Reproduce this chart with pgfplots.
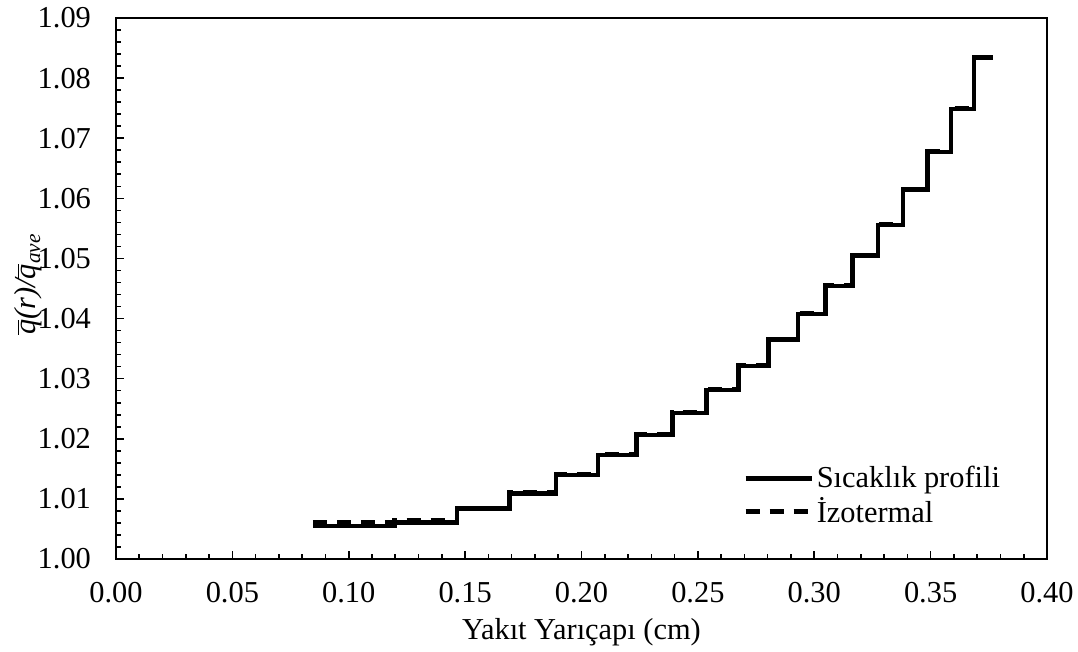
\documentclass[border=0pt]{standalone}
\usepackage{pgfplots}
\pgfplotsset{compat=1.18}
\usepackage{fontspec}
\setmainfont{Liberation Serif}
\newcommand{\fs}{\fontsize{15.2}{18}\selectfont}
\newcommand{\qb}{\ensuremath{\overline{\mbox{\itshape q}}}}
\begin{document}
\begin{tikzpicture}[x=1pt,y=1pt]
\useasboundingbox (0,0) rectangle (539,326);
\begin{axis}[
  at={(58pt,46.5pt)}, anchor=south west,
  scale only axis, width=465.5pt, height=270.5pt,
  xmin=0, xmax=0.4, ymin=1, ymax=1.09,
  xtick={0,0.05,0.1,0.15,0.2,0.25,0.3,0.35,0.4},
  ytick={1,1.01,1.02,1.03,1.04,1.05,1.06,1.07,1.08,1.09},
  minor x tick num=4, minor y tick num=4,
  tick align=inside, xtick pos=bottom, ytick pos=left,
  major tick length=4pt, minor tick length=2.4pt,
  axis line style={line width=0.8pt},
  tick style={black, line width=0.8pt},
  /pgf/number format/assume math mode=true,
  x tick label style={font=\fs, yshift=-8pt},
  y tick label style={font=\fs, xshift=-9pt},
  xticklabel={\pgfmathprintnumber[fixed, fixed zerofill, precision=2]{\tick}},
  yticklabel={\pgfmathprintnumber[fixed, fixed zerofill, precision=2]{\tick}},
  xlabel={Yakıt Yarıçapı (cm)},
  xlabel style={font=\fs, at={(axis description cs:0.5,-0.136)}, anchor=center},
  ylabel={\qb{\itshape(r)/}\qb\textsubscript{\itshape ave}},
  ylabel style={font=\fs, at={(axis description cs:-0.094,0.508)}, anchor=center},
  legend style={draw=none, fill=none, at={(axis description cs:0.6735,0.1165)}, anchor=west, font=\fs, inner sep=0pt, row sep=0.3pt, nodes={inner sep=1.5pt}},
  legend cell align=left,
  legend image code/.code={\draw[#1] (0pt,0pt) -- (33pt,0pt);},
]
\addplot[const plot, black, line width=2.2pt] coordinates {
(0.0846,1.0055) (0.1196,1.0061) (0.1465,1.0084) (0.1691,1.0109)
(0.1891,1.0140) (0.2071,1.0173) (0.2237,1.0206) (0.2391,1.0243)
(0.2537,1.0281) (0.2674,1.0321) (0.2804,1.0365) (0.2929,1.0408)
(0.3049,1.0454) (0.3164,1.0505) (0.3275,1.0556) (0.3382,1.0615)
(0.3486,1.0677) (0.3587,1.0749) (0.3686,1.0834) (0.3767,1.0834)
};
\addlegendentry{Sıcaklık profili}
\addplot[const plot, black, line width=2.2pt, dash pattern=on 7pt off 5pt] coordinates {
(0.0846,1.0061) (0.1196,1.0065) (0.1465,1.0085) (0.1691,1.0111)
(0.1891,1.0141) (0.2071,1.0174) (0.2237,1.0207) (0.2391,1.0244)
(0.2537,1.0282) (0.2674,1.0322) (0.2804,1.0366) (0.2929,1.0409)
(0.3049,1.0455) (0.3164,1.0506) (0.3275,1.0557) (0.3382,1.0616)
(0.3486,1.0678) (0.3587,1.0750) (0.3686,1.0835) (0.3767,1.0835)
};
\addlegendentry{İzotermal}
\end{axis}
\end{tikzpicture}
\end{document}
